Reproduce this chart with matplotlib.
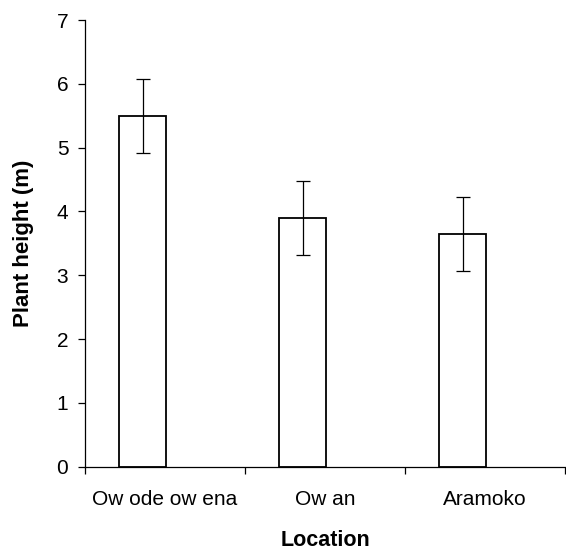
import matplotlib
matplotlib.use("Agg")
import matplotlib.pyplot as plt
import numpy as np

categories = ["Ow ode ow ena", "Ow an", "Aramoko"]
heights = [5.5, 3.89, 3.65]
errors = [0.58, 0.58, 0.58]
yticks = [0, 1, 2, 3, 4, 5, 6, 7]

plt.rcParams['font.family'] = ['Liberation Sans', 'DejaVu Sans']

fig = plt.figure(figsize=(5.66, 5.54), dpi=100)
ax = fig.add_axes([85/566, (554-466.7)/554, 480/566, (466.7-20)/554])

x = np.arange(len(categories))
ax.bar(x - 0.14, heights, width=0.295, color='white', edgecolor='black', linewidth=1.3, zorder=2)
ax.errorbar(x - 0.14, heights, yerr=errors, fmt='none', ecolor='black', elinewidth=0.9,
            capsize=5.2, capthick=0.9, zorder=3)

ax.set_xlim(-0.5, len(categories) - 0.5)
ax.set_ylim(0, 7)
ax.set_yticks(yticks)
ax.set_yticklabels([str(v) for v in yticks], fontsize=15)
ax.set_xticks(np.arange(len(categories) + 1) - 0.5)
ax.set_xticklabels([])
ax.set_xticks(x, minor=True)
ax.set_xticklabels(categories, minor=True, fontsize=15)
ax.tick_params(axis='x', which='minor', length=0, pad=17)
ax.tick_params(axis='x', which='major', length=5, width=0.9, direction='out')
ax.tick_params(axis='y', length=5, width=0.9, direction='out', pad=7)

for s in ['top', 'right']:
    ax.spines[s].set_visible(False)
for s in ['left', 'bottom']:
    ax.spines[s].set_linewidth(0.9)

ax.set_xlabel("Location", fontsize=15.5, fontweight='bold', labelpad=15)
ax.set_ylabel("Plant height (m)", fontsize=16, fontweight='bold', labelpad=16)

fig.savefig("out.png", dpi=100)
